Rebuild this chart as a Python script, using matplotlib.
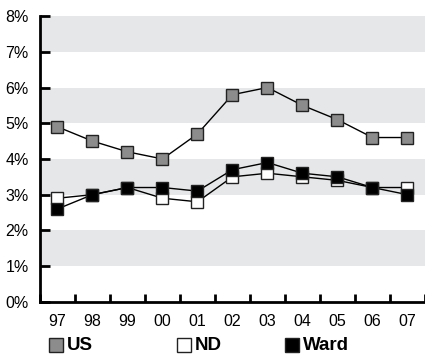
import matplotlib
matplotlib.use("Agg")
import matplotlib.pyplot as plt
from matplotlib.lines import Line2D

plt.rcParams['font.family'] = ['Liberation Sans Narrow', 'Liberation Sans', 'DejaVu Sans']

years = ["97", "98", "99", "00", "01", "02", "03", "04", "05", "06", "07"]
us = [4.9, 4.5, 4.2, 4.0, 4.7, 5.8, 6.0, 5.5, 5.1, 4.6, 4.6]
nd = [2.9, 3.0, 3.2, 2.9, 2.8, 3.5, 3.6, 3.5, 3.4, 3.2, 3.2]
ward = [2.6, 3.0, 3.2, 3.2, 3.1, 3.7, 3.9, 3.6, 3.5, 3.2, 3.0]

series = [("US", us, "#8c8c8c"), ("ND", nd, "white"), ("Ward", ward, "black")]

fig = plt.figure(figsize=(4.25, 3.58), dpi=100)
ax = fig.add_axes([0.094, 0.157, 0.906, 0.798])

# alternating bands
for lo in [1, 3, 5, 7]:
    ax.axhspan(lo, lo + 1, color="#e6e7e8", zorder=0, lw=0)

x = list(range(len(years)))
for name, vals, col in series:
    ax.plot(x, vals, color="black", lw=1, marker="s", markersize=8.5,
            markerfacecolor=col, markeredgecolor="#222222", markeredgewidth=1, zorder=3)

ax.set_xlim(-0.5, len(years) - 0.5)
ax.set_ylim(0, 8)
ax.set_yticks(range(9))
ax.set_yticklabels([f"{i}%" for i in range(9)])
ax.set_xticks([i - 0.5 for i in range(len(years) + 1)])
ax.set_xticklabels([])
ax.set_xticks(x, minor=True)
ax.set_xticklabels(years, minor=True)
ax.tick_params(axis="x", which="minor", length=0, pad=9, labelsize=11.5)
ax.tick_params(axis="x", which="major", direction="in", length=6, width=2)
ax.tick_params(axis="y", direction="in", length=7, width=2, pad=8, labelsize=11.5)

for s in ["top", "right"]:
    ax.spines[s].set_visible(False)
for s in ["left", "bottom"]:
    ax.spines[s].set_linewidth(2)

# legend drawn by hand below the axis
legend_x = [0.132, 0.432, 0.686]
for (name, _, col), lx in zip(series, legend_x):
    fig.add_artist(Line2D([lx], [0.036], ls="none", marker="s", markersize=9.5,
                          markerfacecolor=col, markeredgecolor="#222222",
                          markeredgewidth=1, transform=fig.transFigure))
    fig.text(lx + 0.026, 0.036, name, fontsize=13.5, fontweight="bold",
             va="center", ha="left")

fig.savefig("out.png", dpi=100)
